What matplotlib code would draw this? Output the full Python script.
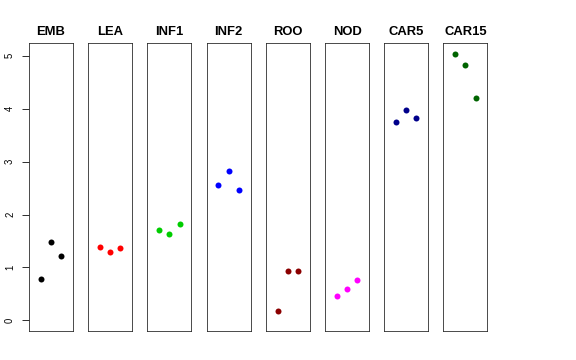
import matplotlib
matplotlib.use("Agg")
import matplotlib.pyplot as plt

plt.rcParams['font.family'] = ['Liberation Sans', 'DejaVu Sans']

tissues = ["EMB", "LEA", "INF1", "INF2", "ROO", "NOD", "CAR5", "CAR15"]
colors = ["#000000", "#FF0000", "#00CD00", "#0000FF", "#8B0000", "#FF00FF", "#00008B", "#006400"]
rep_x = [1, 2, 3]
emb = [0.78, 1.49, 1.22]
lea = [1.38, 1.29, 1.36]
inf1 = [1.70, 1.64, 1.82]
inf2 = [2.55, 2.83, 2.46]
roo = [0.18, 0.93, 0.93]
nod = [0.47, 0.60, 0.77]
car5 = [3.74, 3.98, 3.83]
car15 = [5.04, 4.83, 4.21]
values = [emb, lea, inf1, inf2, roo, nod, car5, car15]
yticks = [0, 1, 2, 3, 4, 5]

W, H = 576, 360
fig = plt.figure(figsize=(W / 72, H / 72), dpi=72)

left0 = 29
pw = 44
step = 59.2
top, bottom = 43, 331

for i, (name, col, vals) in enumerate(zip(tissues, colors, values)):
    x0 = left0 + i * step
    ax = fig.add_axes([x0 / W, 1 - bottom / H, pw / W, (bottom - top) / H])
    ax.plot(rep_x, vals, 'o', color=col, markersize=6, markeredgewidth=0)
    ax.set_xlim(-0.16, 4.16)
    ax.set_ylim(-0.2, 5.24)
    ax.set_xticks([])
    for s in ax.spines.values():
        s.set_linewidth(0.8)
        s.set_color('#222222')
    ax.set_title(name, fontsize=13, fontweight='bold', pad=8)
    if i == 0:
        ax.set_yticks(yticks)
        ax.set_yticklabels([str(t) for t in yticks], rotation=90, va='center', fontsize=9.5)
        ax.tick_params(axis='y', length=7, width=0.8, pad=7)
    else:
        ax.set_yticks([])

fig.savefig("out.png", dpi=72)
